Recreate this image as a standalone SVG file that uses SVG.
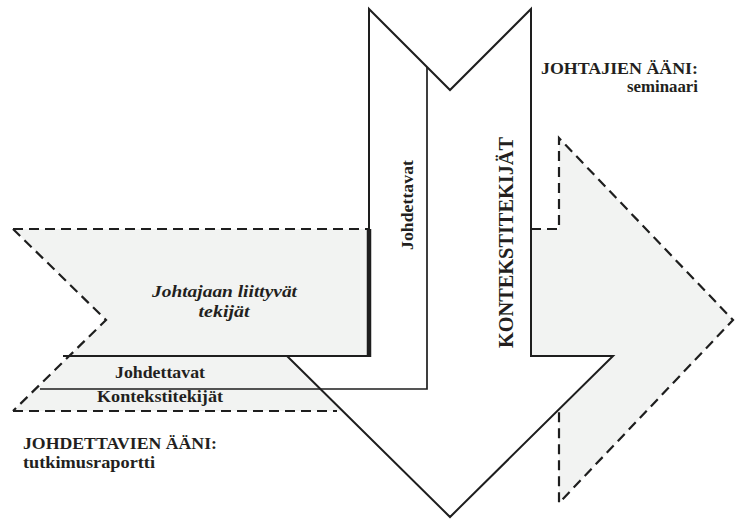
<svg xmlns="http://www.w3.org/2000/svg" width="735" height="519" viewBox="0 0 735 519">
<style>
.bg{fill:#ffffff}
.fillg{fill:#f2f3f2;stroke:none}
.solid{fill:none;stroke:#1e1e1e;stroke-width:2;stroke-linejoin:miter}
.thin{fill:none;stroke:#1e1e1e;stroke-width:1.7}
.dash{fill:none;stroke:#1e1e1e;stroke-width:2.2;stroke-dasharray:10 6}
.thick{fill:none;stroke:#1e1e1e;stroke-width:4.5}
.t{fill:#231f20;font-weight:bold}
.it{font-style:italic}
</style>
<rect class="bg" x="0" y="0" width="735" height="519"/>
<g font-family="'Liberation Serif', 'DejaVu Serif', serif">
<g id="node-johtajaan">
  <polygon class="fillg" points="13,229 369,229 369,356 287,356 342,411 13,411 106,320"/>
  <path class="dash" d="M13,229 H369"/>
  <path class="dash" d="M13,229 L106,320 L13,411"/>
  <path class="dash" d="M13,411 H337"/>
  <path class="thick" d="M369,229 V357"/>
  <text class="t it" font-family="'Liberation Serif', serif" x="224.5" y="297" font-size="17" text-anchor="middle" textLength="145" lengthAdjust="spacingAndGlyphs">Johtajaan liittyvät</text>
  <text class="t it" font-family="'Liberation Serif', serif" x="224" y="317" font-size="17" text-anchor="middle" textLength="51" lengthAdjust="spacingAndGlyphs">tekijät</text>
  <text class="t" font-family="'Liberation Serif', serif" x="160" y="378" font-size="16.5" text-anchor="middle" textLength="90" lengthAdjust="spacingAndGlyphs">Johdettavat</text>
  <text class="t" font-family="'Liberation Serif', serif" x="160" y="401.5" font-size="16.5" text-anchor="middle" textLength="126" lengthAdjust="spacingAndGlyphs">Kontekstitekijät</text>
</g>
<g id="node-seminaari">
  <polygon class="fillg" points="531,229 559,229 559,138 733,320 559,503 559,409 613,356 531,356"/>
  <path class="dash" d="M531,229 H559 V138 L733,320 L559,503 V412"/>
</g>
<g id="node-konteksti">
  <path class="solid" d="M63,356 H369 V9 L450,90 L531,9 V356 H613 L450,517 L287,356"/>
  <text class="t" font-family="'Liberation Serif', serif" transform="translate(513,242.5) rotate(-90)" font-size="22" text-anchor="middle" textLength="211" lengthAdjust="spacingAndGlyphs">KONTEKSTITEKIJÄT</text>
</g>
<g id="node-johdettavat">
  <path class="thin" d="M427,67 V389 H40"/>
  <text class="t" font-family="'Liberation Serif', serif" transform="translate(413,205) rotate(-90)" font-size="16.5" text-anchor="middle" textLength="90" lengthAdjust="spacingAndGlyphs">Johdettavat</text>
</g>
<g id="connectors"></g>
<g id="labels">
  <text class="t" font-family="'Liberation Serif', serif" x="541" y="74" font-size="16.5" textLength="157" lengthAdjust="spacingAndGlyphs">JOHTAJIEN ÄÄNI:</text>
  <text class="t" font-family="'Liberation Serif', serif" x="698" y="92" font-size="16.5" text-anchor="end" textLength="71" lengthAdjust="spacingAndGlyphs">seminaari</text>
  <text class="t" font-family="'Liberation Serif', serif" x="23" y="449" font-size="16.5" textLength="194" lengthAdjust="spacingAndGlyphs">JOHDETTAVIEN ÄÄNI:</text>
  <text class="t" font-family="'Liberation Serif', serif" x="23" y="468" font-size="16.5" textLength="132" lengthAdjust="spacingAndGlyphs">tutkimusraportti</text>
</g>
</g>
</svg>
